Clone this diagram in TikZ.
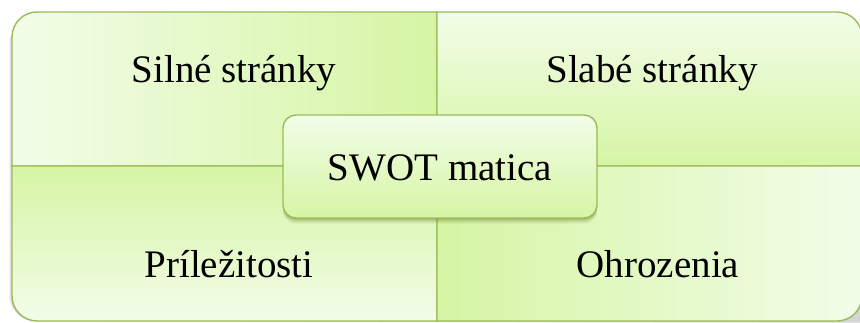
\documentclass[tikz,border=0pt]{standalone}
\usepackage{fontspec}
\setmainfont{Liberation Serif}
\definecolor{lightg}{HTML}{F2FDE8}
\definecolor{greeng}{HTML}{D6F5A4}
\definecolor{borderg}{HTML}{9BBB59}
\definecolor{shadowg}{HTML}{5E7A2E}
\tikzset{
  quad/.style={draw=borderg, line width=1.4pt},
  lbl/.style={anchor=base, inner sep=0pt, font=\fontsize{39}{45}\selectfont},
  centerbox/.style={draw=borderg, line width=1.4pt, rounded corners=13pt,
    top color=lightg, bottom color=greeng, minimum width=314pt, minimum height=103pt,
    inner sep=0pt, text height=37pt, text depth=10pt, font=\fontsize{39}{45}\selectfont},
}
\begin{document}
\begin{tikzpicture}[x=1pt,y=1pt]
\useasboundingbox (0,0) rectangle (860,322);
% faint outer shadows
\foreach \o/\op in {3/0.05,2/0.06,1/0.07}{
  \fill[black, opacity=\op] (12-\o,156) -- (12-\o,26) arc[start angle=180,end angle=270,radius=25] -- (862,1-\o) -- (862,156) -- cycle;
  \fill[black, opacity=\op] (12-\o,156) -- (12-\o,285) -- (437,285) -- (437,156) -- cycle;
}
% quadrants
\shadedraw[quad, left color=lightg, right color=greeng]
  (437,156) -- (12,156) -- (12,285) arc[start angle=180,end angle=90,radius=25] -- (437,310) -- cycle;
\shadedraw[quad, top color=lightg, bottom color=greeng]
  (437,156) -- (437,310) -- (837,310) arc[start angle=90,end angle=0,radius=25] -- (862,156) -- cycle;
\shadedraw[quad, top color=greeng, bottom color=lightg]
  (12,156) -- (12,26) arc[start angle=180,end angle=270,radius=25] -- (437,1) -- (437,156) -- cycle;
\shadedraw[quad, left color=greeng, right color=lightg]
  (437,156) -- (437,1) -- (837,1) arc[start angle=270,end angle=360,radius=25] -- (862,156) -- cycle;
% labels
\node[lbl] (s) at (234,239) {Silné stránky};
\node[lbl] (w) at (652,240) {Slabé stránky};
\node[lbl] (o) at (229,45) {Príležitosti};
\node[lbl] (t) at (658,45) {Ohrozenia};
% central box shadow
\foreach \o/\op in {8/0.05,7/0.07,6/0.09,5/0.11,4/0.13,3/0.14}{
  \fill[shadowg, opacity=\op, rounded corners=13pt] (283,104-\o+2) rectangle (597,207-\o);
}
\node[centerbox] (swot) at (440,155.5) {SWOT matica};
\end{tikzpicture}
\end{document}
